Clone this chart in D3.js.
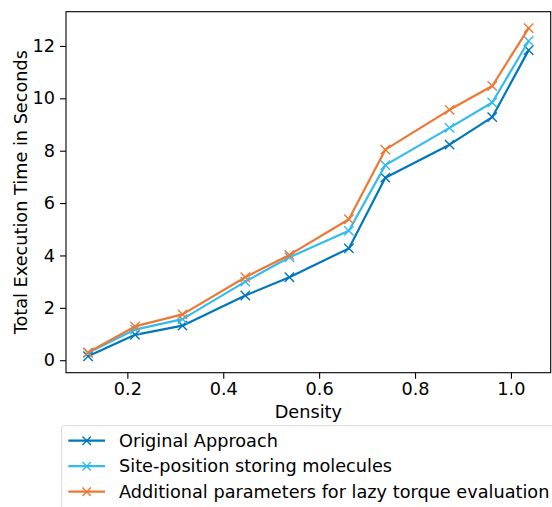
<!DOCTYPE html>
<html>
<head>
<meta charset="utf-8">
<script src="https://cdn.jsdelivr.net/npm/d3@7"></script>
<style>
  body { margin: 0; background: #fff; }
  svg { display: block; font-family: "DejaVu Sans", sans-serif; }
</style>
</head>
<body>
<div id="chart"></div>
<script>
// data
var density = [0.118, 0.216, 0.315, 0.446, 0.538, 0.662, 0.738, 0.872, 0.961, 1.037];
var original = [0.15, 0.97, 1.32, 2.47, 3.17, 4.27, 6.97, 8.23, 9.28, 11.84];
var sitePosition = [0.28, 1.17, 1.57, 3.0, 3.93, 4.94, 7.45, 8.87, 9.84, 12.19];
var lazyTorque = [0.30, 1.29, 1.75, 3.17, 4.02, 5.38, 8.04, 9.56, 10.47, 12.68];
var seriesNames = ["Original Approach", "Site-position storing molecules", "Additional parameters for lazy torque evaluation"];
var seriesColors = ["#0077bb", "#33bbee", "#ee7733"];
var xTicks = [0.2, 0.4, 0.6, 0.8, 1.0];
var yTicks = [0, 2, 4, 6, 8, 10, 12];

var W = 552, H = 507;
var fs = 17.7;
var margin = {top: 11.7, right: 1.3, bottom: 134.3, left: 66};
var width = W - margin.left - margin.right,
    height = H - margin.top - margin.bottom;

var svg = d3.select("#chart").append("svg")
    .attr("width", W)
    .attr("height", H);

var g = svg.append("g")
    .attr("transform", "translate(" + margin.left + "," + margin.top + ")");

// matplotlib style 5% margins
var xExt = d3.extent(density), xPad = (xExt[1] - xExt[0]) * 0.05;
var allY = original.concat(sitePosition, lazyTorque);
var yExt = d3.extent(allY), yPad = (yExt[1] - yExt[0]) * 0.05;

var x = d3.scaleLinear().domain([xExt[0] - xPad, xExt[1] + xPad]).range([0, width]);
var y = d3.scaleLinear().domain([yExt[0] - yPad, yExt[1] + yPad]).range([height, 0]);

var series = [original, sitePosition, lazyTorque].map(function(vals, i) {
  return {
    name: seriesNames[i],
    color: seriesColors[i],
    values: vals.map(function(v, j) { return {x: density[j], y: v}; })
  };
});

var line = d3.line()
    .x(function(d) { return x(d.x); })
    .y(function(d) { return y(d.y); });

// x marker path
function cross(s) {
  return "M" + (-s) + "," + (-s) + "L" + s + "," + s + "M" + (-s) + "," + s + "L" + s + "," + (-s);
}

series.forEach(function(s) {
  g.append("path")
      .datum(s.values)
      .attr("fill", "none")
      .attr("stroke", s.color)
      .attr("stroke-width", 2.2)
      .attr("stroke-linejoin", "round")
      .attr("d", line);

  g.selectAll(null)
      .data(s.values)
    .enter().append("path")
      .attr("transform", function(d) { return "translate(" + x(d.x) + "," + y(d.y) + ")"; })
      .attr("d", cross(4.7))
      .attr("stroke", s.color)
      .attr("stroke-width", 1.4)
      .attr("fill", "none");
});

// axes
var xAxis = g.append("g")
    .attr("transform", "translate(0," + height + ")")
    .call(d3.axisBottom(x).tickValues(xTicks).tickFormat(d3.format(".1f")).tickSize(6).tickPadding(4));

var yAxis = g.append("g")
    .call(d3.axisLeft(y).tickValues(yTicks).tickFormat(d3.format("d")).tickSize(6).tickPadding(5));

[xAxis, yAxis].forEach(function(ax) {
  ax.select(".domain").remove();
  ax.selectAll("line").attr("stroke", "#000").attr("stroke-width", 1.1);
  ax.selectAll("text").attr("font-size", fs).attr("fill", "#000").attr("font-family", "DejaVu Sans, sans-serif");
});

// frame
g.append("rect")
    .attr("width", width)
    .attr("height", height)
    .attr("fill", "none")
    .attr("stroke", "#000")
    .attr("stroke-width", 1.1);

// axis labels
svg.append("text")
    .attr("x", margin.left + width / 2)
    .attr("y", 418)
    .attr("text-anchor", "middle")
    .attr("font-size", fs)
    .text("Density");

svg.append("text")
    .attr("transform", "translate(21," + (margin.top + height / 2) + ") rotate(-90)")
    .attr("text-anchor", "middle")
    .attr("dy", "0.35em")
    .attr("font-size", fs)
    .text("Total Execution Time in Seconds");

// legend
var legend = svg.append("g").attr("transform", "translate(61.7,425.7)");
legend.append("rect")
    .attr("width", 500)
    .attr("height", 90)
    .attr("rx", 2)
    .attr("fill", "#fff")
    .attr("fill-opacity", 0.8)
    .attr("stroke", "#d9d9d9")
    .attr("stroke-width", 1);

var items = legend.selectAll("g.item")
    .data(series)
  .enter().append("g")
    .attr("class", "item")
    .attr("transform", function(d, i) { return "translate(0," + (15 + i * 25.5) + ")"; });

items.append("line")
    .attr("x1", 6.6).attr("x2", 43.3)
    .attr("stroke", function(d) { return d.color; })
    .attr("stroke-width", 2.2);

items.append("path")
    .attr("transform", "translate(25,0)")
    .attr("d", cross(4.2))
    .attr("stroke", function(d) { return d.color; })
    .attr("stroke-width", 1.4);

items.append("text")
    .attr("x", 57.3)
    .attr("dy", "0.35em")
    .attr("font-size", fs)
    .text(function(d) { return d.name; });
</script>
</body>
</html>
